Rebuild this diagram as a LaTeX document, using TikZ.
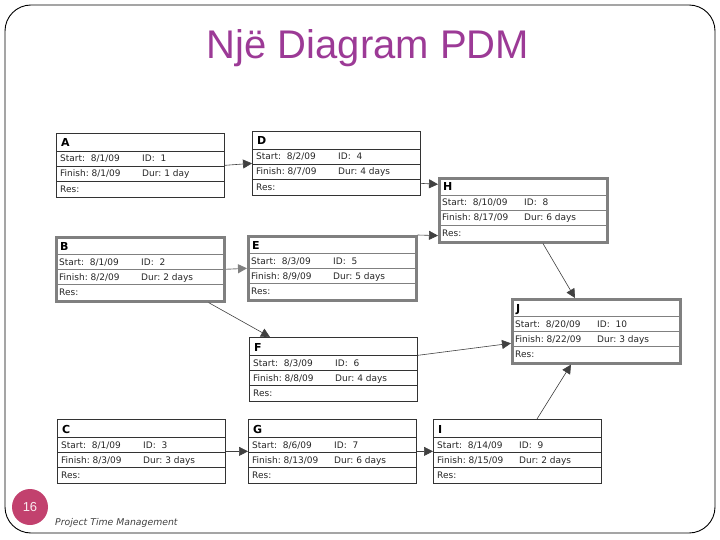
\documentclass[tikz,border=0pt]{standalone}
\usepackage{fontspec}
\setmainfont{Liberation Sans}
\newfontfamily\boxfont{DejaVu Sans}
\usetikzlibrary{arrows.meta}

\definecolor{titlepurple}{RGB}{156,58,150}
\definecolor{numrose}{RGB}{194,65,110}
\definecolor{critgray}{RGB}{128,128,128}

% one activity box: name, corner, box style, row style, letter, start, id, finish, dur
\newcommand{\pdmbox}[9]{%
  \node[#3, anchor=north west] (#1) at (#2) {};
  \draw[#4] ([yshift=-18pt]#1.north west) -- ([yshift=-18pt]#1.north east);
  \draw[#4] ([yshift=-33pt]#1.north west) -- ([yshift=-33pt]#1.north east);
  \draw[#4] ([yshift=-48pt]#1.north west) -- ([yshift=-48pt]#1.north east);
  \node[letter] (#1-name) at ([xshift=5pt,yshift=-14pt]#1.north west) {#5};
  \node[cell] (#1-start) at ([xshift=4pt,yshift=-29pt]#1.north west) {Start:\ \ #6};
  \node[cell] (#1-id) at ([xshift=86pt,yshift=-29pt]#1.north west) {ID:\ \ #7};
  \node[cell] (#1-finish) at ([xshift=4pt,yshift=-44pt]#1.north west) {Finish:\ #8};
  \node[cell] (#1-dur) at ([xshift=86pt,yshift=-44pt]#1.north west) {Dur:\ #9};
  \node[cell] (#1-res) at ([xshift=4pt,yshift=-59.5pt]#1.north west) {Res:};
}

\begin{document}
\begin{tikzpicture}[
  x=1pt, y=-1pt,
  plainbox/.style={rectangle, draw=black!80, line width=0.7pt, minimum width=168pt, minimum height=64pt, inner sep=0pt},
  critbox/.style={rectangle, draw=critgray, line width=2.6pt, minimum width=168pt, minimum height=64pt, inner sep=0pt},
  plainrow/.style={draw=black!80, line width=0.7pt},
  critrow/.style={draw=critgray, line width=0.9pt},
  letter/.style={anchor=base west, inner sep=0pt, font=\boxfont\bfseries\fontsize{11}{13}\selectfont},
  cell/.style={anchor=base west, inner sep=0pt, font=\boxfont\fontsize{9}{11}\selectfont, text=black!85},
  link/.style={draw=black!75, line width=0.6pt, -{Triangle[length=9pt,width=9pt]}},
  critlink/.style={draw=critgray, line width=0.9pt, -{Triangle[length=9pt,width=9pt]}}
]
\useasboundingbox (0,0) rectangle (720,540);
\draw[line width=0.9pt, rounded corners=26pt] (5,5) rectangle (715,533);

\node[text=titlepurple, font=\fontsize{40}{46}\selectfont] (title) at (368,48) {Një Diagram PDM};

\pdmbox{A}{56,133}{plainbox}{plainrow}{A}{8/1/09}{1}{8/1/09}{1 day}
\pdmbox{D}{252,131}{plainbox}{plainrow}{D}{8/2/09}{4}{8/7/09}{4 days}
\pdmbox{H}{438,177}{critbox}{critrow}{H}{8/10/09}{8}{8/17/09}{6 days}
\pdmbox{B}{55,236}{critbox}{critrow}{B}{8/1/09}{2}{8/2/09}{2 days}
\pdmbox{E}{247,235}{critbox}{critrow}{E}{8/3/09}{5}{8/9/09}{5 days}
\pdmbox{J}{511,298}{critbox}{critrow}{J}{8/20/09}{10}{8/22/09}{3 days}
\pdmbox{F}{249,337}{plainbox}{plainrow}{F}{8/3/09}{6}{8/8/09}{4 days}
\pdmbox{C}{57,419}{plainbox}{plainrow}{C}{8/1/09}{3}{8/3/09}{3 days}
\pdmbox{G}{248,419}{plainbox}{plainrow}{G}{8/6/09}{7}{8/13/09}{6 days}
\pdmbox{I}{433,419}{plainbox}{plainrow}{I}{8/14/09}{9}{8/15/09}{2 days}

% links
\draw[link] (A.east) -- (D.west);
\draw[link] ([yshift=-20pt]D.east) -- ([yshift=26pt]H.west);
\draw[link] (E.north east) -- ([yshift=8pt]H.south west);
\draw[critlink] (B.east) -- (E.west);
\draw[link] ([xshift=-17pt]B.south east) -- ([xshift=21pt]F.north west);
\draw[link] ([xshift=105pt]H.south west) -- ([xshift=64pt]J.north west);
\draw[link] ([yshift=14pt]F.east) -- ([yshift=-12pt]J.west);
\draw[link] ([xshift=104pt]I.north west) -- ([xshift=60pt]J.south west);
\draw[link] (C.east) -- (G.west);
\draw[link] (G.east) -- (I.west);

% footer
\node[circle, fill=numrose, minimum size=36pt, inner sep=0pt, text=white!90!numrose, font=\fontsize{13}{15}\selectfont] (num) at (30,507) {16};
\node[anchor=base west, inner sep=0pt, text=black!75, font=\boxfont\itshape\fontsize{9.3}{11}\selectfont] (course) at (55,525) {Project Time Management};
\end{tikzpicture}
\end{document}
